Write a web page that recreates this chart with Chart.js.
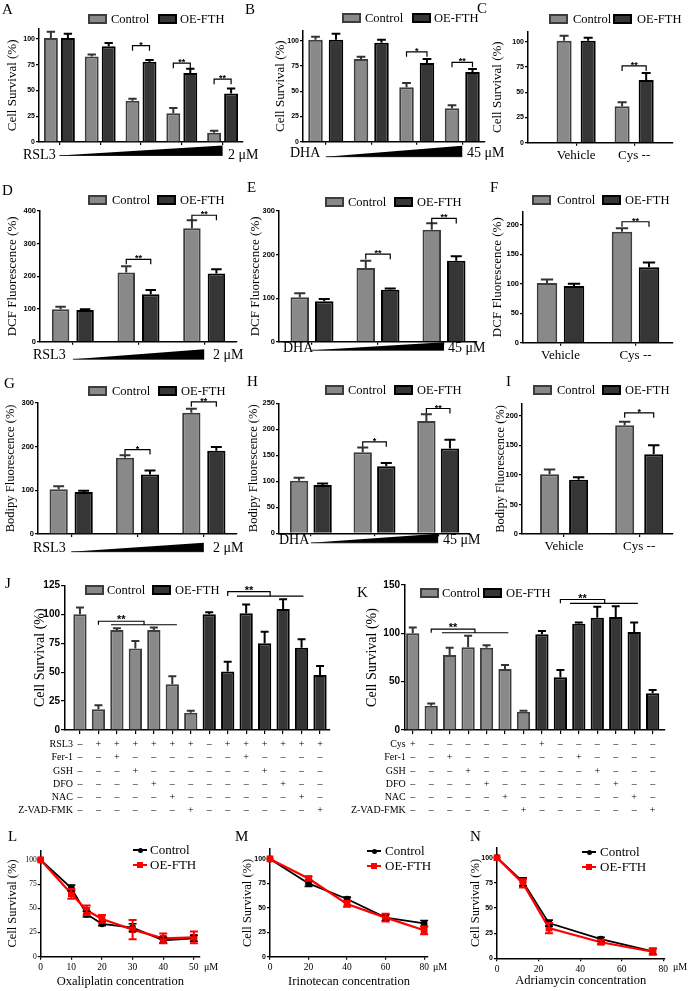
<!DOCTYPE html>
<html>
<head>
<meta charset="utf-8">
<style>
body { margin: 0; background: #fff; }
#fig { position: relative; width: 689px; height: 991px; overflow: hidden; font-family: 'Liberation Serif', 'Times New Roman', serif; color: #000; }
#fig canvas { position: absolute; }
.t { position: absolute; white-space: nowrap; }
.lb { position: absolute; box-sizing: border-box; width: 19px; height: 10px; border: 2px solid; }
</style>
</head>
<body>
<div id="fig"></div>
<script src="https://cdn.jsdelivr.net/npm/chart.js@4.4.1/dist/chart.umd.min.js"></script>
<script>
// ---------- data ----------
const seriesNames = ['Control', 'OE-FTH'];
const cysLabels = ['Vehicle', 'Cys --'];

// A  RSL3 / cell survival
const aCtrl = [101, 83, 40, 28, 9];
const aCtrlErr = [6, 2, 2, 5, 2];
const aOE = [101, 93, 78, 67, 47];
const aOEErr = [4, 3, 1.5, 4, 5];
const aSig = [[2, '*', 93.5], [3, '**', 76.5], [4, '**', 61]];

// B  DHA / cell survival
const bCtrl = [101, 82, 54, 33];
const bCtrlErr = [3, 2, 4, 3];
const bOE = [101, 98, 78, 69];
const bOEErr = [6, 3, 4, 3];
const bSig = [[2, '*', 89], [3, '**', 78.6]];

// C  Cys / cell survival
const cCtrl = [101, 36];
const cCtrlErr = [5, 4];
const cOE = [101, 62];
const cOEErr = [3, 7];
const cSig = [[1, '**', 76]];

// D  RSL3 / DCF
const dCtrl = [99, 212, 347];
const dCtrlErr = [8, 19, 25];
const dOE = [97, 145, 209];
const dOEErr = [2, 13, 13];
const dSig = [[1, '**', 252], [2, '**', 387]];

// E  DHA / DCF
const eCtrl = [102, 169, 257];
const eCtrlErr = [9, 17, 15];
const eOE = [93, 119, 186];
const eOEErr = [5, 3, 10];
const eSig = [[1, '**', 201], [2, '**', 283]];

// F  Cys / DCF
const fCtrl = [101, 188];
const fCtrlErr = [6, 6];
const fOE = [96, 128];
const fOEErr = [4, 8];
const fSig = [[1, '**', 205]];

// G  RSL3 / Bodipy
const gCtrl = [102, 174, 277];
const gCtrlErr = [7, 6, 9];
const gOE = [96, 136, 190];
const gOEErr = [3, 9, 9];
const gSig = [[1, '*', 193], [2, '**', 302]];

// H  DHA / Bodipy
const hCtrl = [101, 156, 216];
const hCtrlErr = [6, 9, 13];
const hOE = [93, 129, 163];
const hOEErr = [3, 6, 17];
const hSig = [[1, '*', 176], [2, '**', 240]];

// I  Cys / Bodipy
const iCtrl = [101, 184];
const iCtrlErr = [8, 6];
const iOE = [92, 135];
const iOEErr = [4, 15];
const iSig = [[1, '*', 205]];

// J  RSL3 + inhibitors
const jCtrl = [100, 18, 86.5, 70.5, 86.5, 39.5, 15];
const jCtrlErr = [6, 3.5, 1.5, 6.5, 2, 7, 1.7];
const jOE = [100, 50.5, 101, 75, 104.5, 71, 47.5];
const jOEErr = [1.7, 8.5, 7.5, 10, 8.5, 7.5, 7.8];
const jRows = ['RSL3', 'Fer-1', 'GSH', 'DFO', 'NAC', 'Z-VAD-FMK'];
const jMarks = ['-++++++-++++++', '--+------+----', '---+------+---', '----+------+--', '-----+------+-', '------+------+'];
const jSig = [
  { top: [2, 4.47, 94], low: [2.68, 6.25, 91], s: '**' },
  { top: [9, 11.3, 119.6], low: [9.5, 13.1, 115.8], s: '**' }
];

// K  Cys + inhibitors
const kCtrl = [100, 25, 77.5, 85.5, 85, 63, 19];
const kCtrlErr = [6, 2.4, 7.6, 12, 2.8, 4.2, 1];
const kOE = [99, 54.5, 110, 116, 117, 101.5, 38];
const kOEErr = [3.4, 7.5, 1.1, 11.4, 11, 9.7, 3.4];
const kRows = ['Cys', 'Fer-1', 'GSH', 'DFO', 'NAC', 'Z-VAD-FMK'];
const kMarks = ['+------+------', '--+------+----', '---+------+---', '----+------+--', '-----+------+-', '------+------+'];
const kSig = [
  { top: [2, 4.37, 104.4], low: [2.58, 6.18, 100.6], s: '**' },
  { top: [9, 11.4, 135], low: [9.52, 13.2, 131], s: '**' }
];

// L  Oxaliplatin
const lX = [0, 10, 15, 20, 30, 40, 50];
const lCtrl = [100, 71, 44, 34, 30, 17, 19];
const lCtrlErr = [0, 3, 3, 2, 4, 3, 3];
const lOE = [100, 65, 48, 39, 28, 19, 20];
const lOEErr = [0, 5, 5, 4, 10, 5, 6];

// M  Irinotecan
const mX = [0, 20, 40, 60, 80];
const mCtrl = [100, 75, 59, 40, 34];
const mCtrlErr = [0, 3, 2, 3, 3];
const mOE = [100, 80, 54, 40, 27];
const mOEErr = [0, 2, 3, 4, 4];

// N  Adriamycin
const nX = [0, 12.5, 25, 50, 75];
const nCtrl = [100, 76, 35, 19, 7];
const nCtrlErr = [0, 4, 3, 2, 3];
const nOE = [100, 74.5, 30, 16, 6.5];
const nOEErr = [0, 4, 5, 2, 3];

// ---------- drawing ----------
const fig = document.getElementById('fig');
const SANS = "'Liberation Sans', Arial, sans-serif";
const SERIF = "'Liberation Serif', 'Times New Roman', serif";
Chart.defaults.color = '#000';
Chart.defaults.font.family = SERIF;

const CTRL = { bg: '#898989', bd: '#3d3d3d', ec: '#333333' };
const OEST = { bg: '#363636', bd: '#000000', ec: '#000000' };

function steps(to, step) {
  const out = [];
  for (let v = 0; v <= to + 1e-9; v += step) out.push({ value: v });
  return out;
}

// error bars, significance brackets, dose wedge and the +/- table
const annot = {
  id: 'annot',
  afterDatasetsDraw(chart, args, o) {
    const ctx = chart.ctx, xs = chart.scales.x, ys = chart.scales.y;
    ctx.save();
    chart.data.datasets.forEach((ds, di) => {
      if (!ds.err) return;
      const meta = chart.getDatasetMeta(di);
      ctx.strokeStyle = ds.errColor || ds.borderColor;
      ctx.lineWidth = ds.errWidth || 2;
      meta.data.forEach((el, i) => {
        const e = ds.err[i];
        if (!e) return;
        const v = ds.data[i].y;
        const yt = ys.getPixelForValue(v + e);
        const yb = o.both ? ys.getPixelForValue(v - e) : el.y;
        const cw = o.cap || el.width * 0.3;
        ctx.beginPath();
        ctx.moveTo(el.x, yb); ctx.lineTo(el.x, yt);
        ctx.moveTo(el.x - cw, yt); ctx.lineTo(el.x + cw, yt);
        if (o.both) { ctx.moveTo(el.x - cw, yb); ctx.lineTo(el.x + cw, yb); }
        ctx.stroke();
      });
    });

    ctx.strokeStyle = '#000';
    ctx.fillStyle = '#000';
    ctx.lineWidth = 1.2;
    ctx.textAlign = 'center';
    ctx.textBaseline = 'alphabetic';

    (o.pairs || []).forEach(([g, s, y]) => {
      const a = chart.getDatasetMeta(0).data[g].x;
      const b = chart.getDatasetMeta(1).data[g].x;
      const py = ys.getPixelForValue(y);
      ctx.beginPath();
      ctx.moveTo(a, py + 5); ctx.lineTo(a, py); ctx.lineTo(b, py); ctx.lineTo(b, py + 5);
      ctx.stroke();
      ctx.font = 'bold 9px ' + SANS;
      ctx.fillText(s, (a + b) / 2, py + 2);
    });

    (o.brackets || []).forEach(b => {
      const xa = xs.getPixelForValue(b.top[0]), xb = xs.getPixelForValue(b.top[1]);
      const y1 = ys.getPixelForValue(b.top[2]), y2 = ys.getPixelForValue(b.low[2]);
      ctx.beginPath();
      ctx.moveTo(xa, y2); ctx.lineTo(xa, y1); ctx.lineTo(xb, y1); ctx.lineTo(xb, y2);
      ctx.moveTo(xs.getPixelForValue(b.low[0]), y2); ctx.lineTo(xs.getPixelForValue(b.low[1]), y2);
      ctx.stroke();
      ctx.font = 'bold 11px ' + SANS;
      ctx.fillText(b.s, (xa + xb) / 2, y1 + 2);
    });

    if (o.wedge) {
      const xa = xs.getPixelForValue(1), xb = xs.getPixelForValue(o.wedge.n);
      const yb = chart.chartArea.bottom + o.wedge.yb;
      ctx.beginPath();
      ctx.moveTo(xa, yb); ctx.lineTo(xb, yb); ctx.lineTo(xb, yb - o.wedge.h);
      ctx.closePath();
      ctx.fill();
      ctx.lineWidth = 0.8;
      ctx.beginPath(); ctx.moveTo(xa, yb); ctx.lineTo(xb, yb); ctx.stroke();
    }

    if (o.table) {
      ctx.font = '10px ' + SERIF;
      ctx.textBaseline = 'middle';
      const x1 = xs.getPixelForValue(1);
      o.table.rows.forEach((name, r) => {
        const y = chart.chartArea.bottom + o.table.y0 + r * o.table.dy;
        ctx.textAlign = 'right';
        ctx.fillText(name, x1 - 7, y);
        ctx.textAlign = 'center';
        o.table.marks[r].split('').forEach((m, c) => {
          ctx.fillText(m === '+' ? '+' : '\u2013', xs.getPixelForValue(c + 1), y);
        });
      });
    }
    ctx.restore();
  }
};

function mount(box) {
  const c = document.createElement('canvas');
  c.width = box.w; c.height = box.h;
  c.style.left = box.x + 'px';
  c.style.top = box.y + 'px';
  fig.appendChild(c);
  return c;
}

// canvas box + padding so the plot area lands where it is in the figure
function frame(L, XH) {
  const tf = L.tf || 13, lh = tf * 1.2;
  const bx = L.bx !== undefined ? L.bx : Math.floor(L.titleX - lh / 2 - 2);
  const by = Math.floor(L.top - 22);
  const box = { x: bx, y: by, w: Math.ceil(L.x1 + 14 - bx), h: Math.ceil(L.bot + L.below - by) };
  const padL = L.titleX - lh / 2 - bx;
  return {
    box, yW: L.x0 - bx - padL,
    padding: { left: padL, top: L.top - by, right: bx + box.w - L.x1, bottom: by + box.h - L.bot - XH }
  };
}

function yScale(L, fr, font) {
  return {
    min: 0, max: L.ymax,
    ticks: { stepSize: L.step, font, color: '#000', padding: 1, autoSkip: false },
    afterBuildTicks: s => { s.ticks = steps(L.ymax, L.step); },
    afterFit: s => { s.width = fr.yW; },
    grid: { drawOnChartArea: false, tickLength: L.tl || 3, color: '#000', lineWidth: 1.2 },
    border: { color: '#000', width: 1.5 },
    title: { display: true, text: L.title, font: { family: SERIF, size: L.tf || 13 }, color: '#000', padding: 0 }
  };
}

function set(label, vals, err, st, start) {
  return {
    label, data: vals.map((v, i) => ({ x: i + (start || 1), y: v })), err,
    backgroundColor: st.bg, borderColor: st.bd, errColor: st.ec, borderWidth: 2
  };
}

function barPanel(L, sets, extra) {
  const XH = 20;
  const fr = frame(L, XH);
  sets.forEach(s => {
    s.categoryPercentage = L.cat;
    s.barPercentage = L.bar;
    s.grouped = L.grouped !== false;
  });
  new Chart(mount(fr.box), {
    type: 'bar',
    data: { datasets: sets },
    options: {
      responsive: false, animation: false, events: [],
      layout: { autoPadding: false, padding: fr.padding },
      plugins: { legend: { display: false }, tooltip: { enabled: false }, annot: extra },
      scales: {
        x: {
          type: 'linear', min: L.xmin, max: L.xmax, offset: false,
          afterBuildTicks: s => { s.ticks = Array.from({ length: L.n }, (_, i) => ({ value: i + 1 })); },
          afterFit: s => { s.height = XH; },
          ticks: {
            autoSkip: false, maxRotation: 0, padding: 2, color: '#000',
            font: { family: SERIF, size: 13 },
            callback: v => (L.labels ? L.labels[Math.round(v) - 1] : '')
          },
          grid: { drawOnChartArea: false, offset: false, tickLength: L.tl || 3, color: '#000', lineWidth: 1.2 },
          border: { color: '#000', width: 1.5 }
        },
        y: yScale(L, fr, { family: SANS, weight: 'bold', size: L.yf || 7.5 })
      }
    },
    plugins: [annot]
  });
}

function linePanel(L, xv, ctrl, ctrlErr, oe, oeErr) {
  const fr = frame(L, L.XH);
  const pts = a => xv.map((x, i) => ({ x, y: a[i] }));
  new Chart(mount(fr.box), {
    type: 'line',
    data: {
      datasets: [
        { label: seriesNames[0], data: pts(ctrl), err: ctrlErr, borderColor: '#000', backgroundColor: '#000',
          borderWidth: 1.8, errWidth: 1.6, pointRadius: 2.5, pointStyle: 'circle', tension: 0, clip: false, order: 1 },
        { label: seriesNames[1], data: pts(oe), err: oeErr, borderColor: '#ff0000', backgroundColor: '#ff0000',
          borderWidth: 2.2, errWidth: 2, pointRadius: 3.2, pointStyle: 'rect', tension: 0, clip: false, order: 0 }
      ]
    },
    options: {
      responsive: false, animation: false, events: [],
      layout: { autoPadding: false, padding: fr.padding },
      plugins: { legend: { display: false }, tooltip: { enabled: false }, annot: { both: true, cap: 4 } },
      scales: {
        x: {
          type: 'linear', min: 0, max: L.xmax,
          ticks: { stepSize: L.xstep, font: { family: SERIF, size: 9.5 }, color: '#000', padding: 2, maxRotation: 0, autoSkip: false },
          afterBuildTicks: s => { s.ticks = steps(L.xlast, L.xstep); },
          afterFit: s => { s.height = L.XH; },
          grid: { drawOnChartArea: false, tickLength: 3, color: '#000', lineWidth: 1.2 },
          border: { color: '#000', width: 1.5 },
          title: { display: true, text: L.xtitle, font: { family: SERIF, size: 12.5 }, color: '#000', padding: 0 }
        },
        y: yScale(L, fr, L.serifY ? { family: SERIF, size: 7.5 } : { family: SANS, weight: 'bold', size: 7 })
      }
    },
    plugins: [annot]
  });
}

const T_CS = 'Cell Survival (%)', T_DCF = 'DCF Fluorescence (%)', T_BOD = 'Bodipy Fluorescence (%)';
const pair = (c, ce, o, oe, start) => [set(seriesNames[0], c, ce, CTRL, start), set(seriesNames[1], o, oe, OEST, start)];

barPanel({ x0: 39, x1: 243, top: 28.7, bot: 142, below: 28, titleX: 12.5, ymax: 110, step: 25, yf: 7, title: T_CS,
  n: 5, xmin: 0.5, xmax: 5.5, cat: 0.833, bar: 0.82 },
  pair(aCtrl, aCtrlErr, aOE, aOEErr), { pairs: aSig, wedge: { n: 5, yb: 13.5, h: 10 } });
barPanel({ x0: 303, x1: 485, top: 30.6, bot: 141.7, below: 28, titleX: 281, ymax: 110, step: 25, yf: 7, title: T_CS,
  n: 4, xmin: 0.5, xmax: 4.5, cat: 0.9, bar: 0.71 },
  pair(bCtrl, bCtrlErr, bOE, bOEErr), { pairs: bSig, wedge: { n: 4, yb: 15, h: 11 } });
barPanel({ x0: 528, x1: 673, top: 31.6, bot: 142.7, below: 28, titleX: 497.5, ymax: 110, step: 25, yf: 7, title: T_CS,
  n: 2, xmin: 0.17, xmax: 2.67, cat: 0.83, bar: 0.625, labels: cysLabels },
  pair(cCtrl, cCtrlErr, cOE, cOEErr), { pairs: cSig });

barPanel({ x0: 40, x1: 237, top: 211, bot: 341.7, below: 28, titleX: 12.5, ymax: 400, step: 100, title: T_DCF,
  n: 3, xmin: 0.5, xmax: 3.5, cat: 0.746, bar: 0.714 },
  pair(dCtrl, dCtrlErr, dOE, dOEErr), { pairs: dSig, wedge: { n: 3, yb: 17.5, h: 10 } });
barPanel({ x0: 279, x1: 477, top: 211, bot: 341.7, below: 28, titleX: 255.5, ymax: 300, step: 100, title: T_DCF,
  n: 3, xmin: 0.5, xmax: 3.5, cat: 0.742, bar: 0.755 },
  pair(eCtrl, eCtrlErr, eOE, eOEErr), { pairs: eSig, wedge: { n: 3, yb: 8.5, h: 8 } });
barPanel({ x0: 523, x1: 673, top: 211.7, bot: 342.7, below: 28, titleX: 497.5, ymax: 222, step: 50, title: T_DCF,
  n: 2, xmin: 0.5, xmax: 2.5, cat: 0.72, bar: 0.76, labels: cysLabels },
  pair(fCtrl, fCtrlErr, fOE, fOEErr), { pairs: fSig });

barPanel({ x0: 38, x1: 237, top: 402.7, bot: 534, below: 28, titleX: 11, ymax: 300, step: 100, title: T_BOD, tf: 12.5,
  n: 3, xmin: 0.5, xmax: 3.5, cat: 0.754, bar: 0.73 },
  pair(gCtrl, gCtrlErr, gOE, gOEErr), { pairs: gSig, wedge: { n: 3, yb: 17.7, h: 9 } });
barPanel({ x0: 279, x1: 470, top: 403.3, bot: 533.3, below: 28, titleX: 254, ymax: 250, step: 50, title: T_BOD, tf: 12.5,
  n: 3, xmin: 0.5, xmax: 3.5, cat: 0.74, bar: 0.78 },
  pair(hCtrl, hCtrlErr, hOE, hOEErr), { pairs: hSig, wedge: { n: 3, yb: 9.5, h: 9 } });
barPanel({ x0: 522, x1: 673, top: 404, bot: 534, below: 28, titleX: 501, ymax: 220, step: 50, title: T_BOD, tf: 12.5,
  n: 2, xmin: 0.44, xmax: 2.45, cat: 0.773, bar: 0.655, labels: cysLabels },
  pair(iCtrl, iCtrlErr, iOE, iOEErr), { pairs: iSig });

barPanel({ x0: 65, x1: 330, top: 585.4, bot: 730, below: 90, titleX: 40, bx: 0, ymax: 125, step: 25, yf: 10, tf: 14, tl: 4, title: T_CS,
  n: 14, xmin: 0.19, xmax: 14.54, cat: 0.8, bar: 0.9, grouped: false },
  [set(seriesNames[0], jCtrl, jCtrlErr, CTRL, 1), set(seriesNames[1], jOE, jOEErr, OEST, 8)],
  { brackets: jSig, table: { rows: jRows, marks: jMarks, y0: 14.3, dy: 13.3 } });
barPanel({ x0: 405, x1: 665, top: 585, bot: 730, below: 90, titleX: 372, bx: 338, ymax: 150, step: 50, yf: 10, tf: 14, tl: 4, title: T_CS,
  n: 14, xmin: 0.58, xmax: 14.67, cat: 0.8, bar: 0.9, grouped: false },
  [set(seriesNames[0], kCtrl, kCtrlErr, CTRL, 1), set(seriesNames[1], kOE, kOEErr, OEST, 8)],
  { brackets: kSig, table: { rows: kRows, marks: kMarks, y0: 14.3, dy: 13.3 } });

linePanel({ x0: 40.7, x1: 200, top: 850.3, bot: 956.7, below: 34, titleX: 12.5, tf: 12.5, ymax: 110, step: 25, title: T_CS,
  xmax: 52, xstep: 10, xlast: 50, XH: 32.5, xtitle: 'Oxaliplatin concentration', serifY: true },
  lX, lCtrl, lCtrlErr, lOE, lOEErr);
linePanel({ x0: 270, x1: 428, top: 849.2, bot: 956.7, below: 34, titleX: 247.5, tf: 12.5, ymax: 110, step: 25, title: T_CS,
  xmax: 82, xstep: 20, xlast: 80, XH: 32.5, xtitle: 'Irinotecan concentration' },
  mX, mCtrl, mCtrlErr, mOE, mOEErr);
linePanel({ x0: 497, x1: 664.5, top: 847.7, bot: 958.3, below: 32.5, titleX: 476, tf: 12.5, ymax: 110, step: 25, title: T_CS,
  xmax: 80.6, xstep: 20, xlast: 80, XH: 30, xtitle: 'Adriamycin concentration' },
  nX, nCtrl, nCtrlErr, nOE, nOEErr);

// ---------- html text: panel letters, legends, dose labels ----------
function txt(s, x, cy, size, extra) {
  const d = document.createElement('div');
  d.className = 't';
  d.textContent = s;
  d.style.cssText = `left:${x}px;top:${cy - size * 0.6}px;font-size:${size}px;line-height:${size * 1.2}px;` + (extra || '');
  fig.appendChild(d);
}
function swatch(x, cy, st) {
  const d = document.createElement('div');
  d.className = 'lb';
  d.style.cssText = `left:${x}px;top:${cy - 5}px;background:${st.bg};border-color:${st.bd};`;
  fig.appendChild(d);
}
function lineKey(x, cy, color, square, label, tx) {
  const l = document.createElement('div');
  l.style.cssText = `position:absolute;left:${x}px;top:${cy - 1}px;width:14px;height:2px;background:${color};`;
  fig.appendChild(l);
  const m = document.createElement('div');
  const r = square ? 3 : 2.5;
  m.style.cssText = `position:absolute;left:${x + 7 - r}px;top:${cy - r}px;width:${2 * r}px;height:${2 * r}px;background:${color};` + (square ? '' : 'border-radius:50%;');
  fig.appendChild(m);
  txt(label, tx, cy, 13);
}

[['A', 2, 9], ['B', 245, 9], ['C', 477, 8], ['D', 2, 190], ['E', 247, 187], ['F', 490, 187],
 ['G', 4, 383], ['H', 247, 381], ['I', 506, 381], ['J', 5, 583], ['K', 357, 592],
 ['L', 8, 836], ['M', 235, 836], ['N', 470, 836]].forEach(([s, x, y]) => txt(s, x, y, 15));

[[88, 111, 158, 180, 19], [342, 365, 412, 434, 18], [549, 573, 613, 637, 19],
 [88, 112, 157, 180, 200], [325, 348, 394, 417, 202], [532, 557, 602, 625, 200],
 [88, 112, 158, 181, 391], [325, 348, 394, 417, 390], [533, 557, 602, 625, 390],
 [85, 107, 152, 175, 590], [420, 442, 483, 506, 593]].forEach(([b1, t1, b2, t2, y]) => {
  swatch(b1, y, CTRL); txt(seriesNames[0], t1, y, 12.5);
  swatch(b2, y, OEST); txt(seriesNames[1], t2, y, 12.5);
});

[['RSL3', 23, 155, '2 \u03bcM', 228], ['DHA', 290, 153, '45 \u03bcM', 467],
 ['RSL3', 33, 355, '2 \u03bcM', 213], ['DHA', 283, 348, '45 \u03bcM', 448],
 ['RSL3', 33, 548, '2 \u03bcM', 213], ['DHA', 279, 540, '45 \u03bcM', 443]].forEach(([a, x, y, u, ux]) => {
  txt(a, x, y, 14); txt(u, ux, y, 14);
});

[[204, 966.5], [433, 966.5], [673, 966.5]].forEach(([x, y]) => txt('\u03bcM', x, y, 10));

[[133, 150, 850], [367, 385, 851], [582, 600, 852]].forEach(([x, tx, y]) => {
  lineKey(x, y, '#000', false, seriesNames[0], tx);
  lineKey(x, y + 15, '#ff0000', true, seriesNames[1], tx);
});
</script>
</body>
</html>
